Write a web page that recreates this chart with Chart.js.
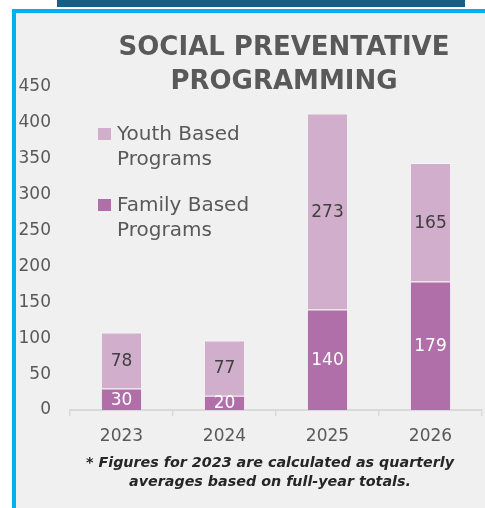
<!DOCTYPE html>
<html>
<head>
<meta charset="utf-8">
<script src="https://cdn.jsdelivr.net/npm/chart.js@4.4.1/dist/chart.umd.min.js"></script>
<style>
  html, body { margin: 0; padding: 0; background: #fff; }
  body { width: 485px; height: 508px; overflow: hidden; position: relative; }
  #topBar { position: absolute; left: 57px; top: 0; width: 408px; height: 7px; background: #175f86; }
  #panel {
    position: absolute; left: 12px; top: 9px; width: 469px; height: 495px;
    border-left: 4px solid #00b0f0; border-top: 4px solid #00b0f0; background: #f0f0f0;
  }
  canvas { display: block; }
</style>
</head>
<body>
<div id="topBar"></div>
<div id="panel"><canvas id="chart" width="469" height="495"></canvas></div>
<script>
const years = ['2023', '2024', '2025', '2026'];
const familyBased = [30, 20, 140, 179];
const youthBased = [78, 77, 273, 165];
const seriesNames = [['Youth Based', 'Programs'], ['Family Based', 'Programs']];
const titleLines = ['SOCIAL PREVENTATIVE', 'PROGRAMMING'];
const noteLines = ['* Figures for 2023 are calculated as quarterly', 'averages based on full-year totals.'];

const FONT = '"DejaVu Sans", sans-serif';
const GREY = '#595959';
const YOUTH = '#d1aecb';
const FAMILY = '#b06fa8';

// numbers inside each stacked segment
const segmentLabels = {
    id: 'segmentLabels',
    afterDatasetsDraw(chart) {
        const ctx = chart.ctx;
        ctx.save();
        ctx.font = '17px ' + FONT;
        ctx.textAlign = 'center';
        ctx.textBaseline = 'middle';
        chart.data.datasets.forEach((ds, i) => {
            chart.getDatasetMeta(i).data.forEach((bar, j) => {
                ctx.fillStyle = ds.labelColor;
                ctx.fillText(ds.data[j], bar.x, (bar.y + bar.base) / 2 + 1);
            });
        });
        ctx.restore();
    }
};

// title, floating legend and footnote
const textLayer = {
    id: 'textLayer',
    afterDraw(chart) {
        const ctx = chart.ctx;
        ctx.save();
        ctx.textBaseline = 'alphabetic';

        ctx.fillStyle = GREY;
        ctx.textAlign = 'center';
        ctx.font = 'bold 26px ' + FONT;
        ctx.fillText(titleLines[0], 268, 42);
        ctx.fillText(titleLines[1], 268, 76);

        // legend, youth first like the stack top
        const legend = [
            { color: YOUTH, lines: seriesNames[0], y: 127 },
            { color: FAMILY, lines: seriesNames[1], y: 198 }
        ];
        ctx.textAlign = 'left';
        ctx.font = '20px ' + FONT;
        legend.forEach(item => {
            ctx.fillStyle = item.color;
            ctx.fillRect(82, item.y - 12, 13, 12);
            ctx.fillStyle = GREY;
            ctx.fillText(item.lines[0], 101, item.y);
            ctx.fillText(item.lines[1], 101, item.y + 24.5);
        });

        ctx.fillStyle = '#262626';
        ctx.textAlign = 'center';
        ctx.font = 'italic bold 14.3px ' + FONT;
        ctx.fillText(noteLines[0], 254, 454);
        ctx.fillText(noteLines[1], 254, 473);
        ctx.restore();
    }
};

new Chart(document.getElementById('chart'), {
    type: 'bar',
    data: {
        labels: years,
        datasets: [
            { label: seriesNames[1].join(' '), data: familyBased, backgroundColor: FAMILY, labelColor: '#ffffff' },
            { label: seriesNames[0].join(' '), data: youthBased, backgroundColor: YOUTH, labelColor: '#404040' }
        ]
    },
    options: {
        responsive: false,
        animation: false,
        layout: { padding: { top: 74, right: 3, left: 0, bottom: 0 } },
        datasets: {
            bar: {
                barPercentage: 0.4,
                categoryPercentage: 1,
                borderWidth: 1,
                borderColor: 'rgba(255,255,255,0.35)',
                borderSkipped: 'start'
            }
        },
        plugins: {
            legend: { display: false },
            title: { display: false },
            tooltip: { enabled: false }
        },
        scales: {
            x: {
                stacked: true,
                grid: { display: true, drawOnChartArea: false, offset: true, color: '#d9d9d9', lineWidth: 1.5, tickLength: 6 },
                border: { display: true, color: '#d9d9d9', width: 2 },
                ticks: { color: GREY, font: { family: FONT, size: 17 }, padding: 10, maxRotation: 0 },
                afterFit(scale) { scale.height = 98; }
            },
            y: {
                stacked: true,
                min: 0,
                max: 450,
                grid: { display: false, drawTicks: false },
                border: { display: false },
                ticks: { stepSize: 50, color: GREY, font: { family: FONT, size: 17 }, padding: 19 },
                afterFit(scale) { scale.width = 54; }
            }
        }
    },
    plugins: [segmentLabels, textLayer]
});
</script>
</body>
</html>
